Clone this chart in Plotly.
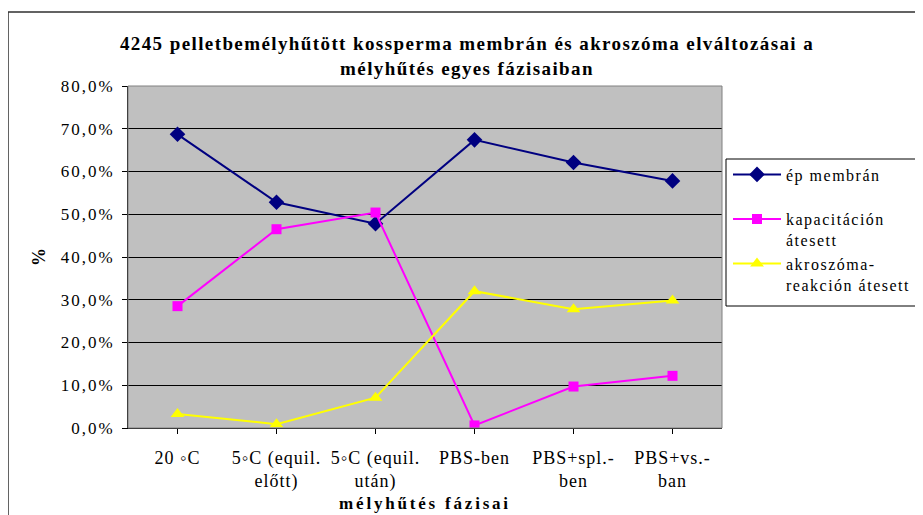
import plotly.graph_objects as go

# ---- data ----
categories = ["20 ◦C", "5◦C (equil.<br>előtt)", "5◦C (equil.<br>után)", "PBS-ben",
              "PBS+spl.-<br>ben", "PBS+vs.-<br>ban"]
ep_membran = [0.687, 0.528, 0.478, 0.674, 0.621, 0.578]
kapacitacion = [0.285, 0.465, 0.504, 0.006, 0.097, 0.122]
akroszoma = [0.033, 0.009, 0.071, 0.320, 0.278, 0.298]
series_names = ["ép membrán", "kapacitáción<br>átesett", "akroszóma-<br>reakción átesett"]
y_tick_values = [0, 0.1, 0.2, 0.3, 0.4, 0.5, 0.6, 0.7, 0.8]
y_tick_labels = ["0,0%", "10,0%", "20,0%", "30,0%", "40,0%", "50,0%", "60,0%", "70,0%", "80,0%"]
title_lines = ["4245 pelletbemélyhűtött kossperma membrán és akroszóma elváltozásai a",
               "mélyhűtés egyes fázisaiban"]
x_title = "mélyhűtés fázisai"
y_title = "%"

FONT = "Liberation Serif, Times New Roman, serif"


def spaced(text, ls):
    return "<br>".join(f'<span style="letter-spacing:{ls}px">{t}</span>' for t in text.split("<br>"))


# page body has an 8px margin: figure coords = reference coords - 8
OFF = 8
W, H = 923 - OFF, 515 - OFF
L, R, T, B = 128 - OFF, 722 - OFF, 86 - OFF, 428 - OFF


def px(x):
    return (x - OFF - L) / (R - L)


def py(y):
    return (B - (y - OFF)) / (B - T)


x_idx = list(range(len(categories)))
LEG_LS = 1.5

fig = go.Figure()
fig.add_trace(go.Scatter(
    x=x_idx, y=ep_membran, name=spaced(series_names[0] + "<br> ", LEG_LS), mode="lines+markers",
    line=dict(color="#000080", width=2),
    marker=dict(symbol="diamond", size=12, color="#000080")))
fig.add_trace(go.Scatter(
    x=x_idx, y=kapacitacion, name=spaced(series_names[1], LEG_LS), mode="lines+markers",
    line=dict(color="#FF00FF", width=2),
    marker=dict(symbol="square", size=10, color="#FF00FF")))
fig.add_trace(go.Scatter(
    x=x_idx, y=akroszoma, name=spaced(series_names[2], LEG_LS), mode="lines+markers",
    line=dict(color="#FFFF00", width=2),
    marker=dict(symbol="triangle-up", size=12, color="#FFFF00")))

shapes = [
    dict(type="rect", xref="paper", yref="paper", x0=px(8), x1=px(935), y0=py(12), y1=py(530),
         line=dict(color="#303030", width=1.5), fillcolor="rgba(0,0,0,0)", layer="below"),
    dict(type="rect", xref="paper", yref="paper", x0=0, x1=1, y0=0, y1=1,
         line=dict(color="#808080", width=1), fillcolor="rgba(0,0,0,0)", layer="above"),
    dict(type="rect", xref="paper", yref="paper", x0=px(726), x1=px(921.5), y0=py(306), y1=py(159),
         line=dict(color="black", width=1), fillcolor="white", layer="above"),
]

fig.update_layout(
    width=W, height=H,
    margin=dict(l=L, r=W - R, t=T, b=H - B, autoexpand=False),
    paper_bgcolor="white", plot_bgcolor="#C0C0C0",
    font=dict(family=FONT, size=18, color="black"),
    title=dict(text="<br>".join(spaced(t, 1.4) for t in title_lines),
               x=(467 - OFF) / W, xanchor="center", xref="container",
               y=1 - (50 - OFF) / H, yanchor="top", yref="container",
               font=dict(family=FONT, size=19, weight="bold", color="black")),
    showlegend=True,
    legend=dict(x=px(728), xanchor="left", y=py(157.5), yanchor="top",
                bgcolor="rgba(0,0,0,0)", borderwidth=0, valign="top",
                font=dict(family=FONT, size=16), tracegroupgap=0, itemwidth=48),
    shapes=shapes,
)

fig.update_xaxes(
    range=[-0.5, len(categories) - 0.5],
    tickmode="array", tickvals=x_idx, ticktext=[spaced(c, 1.0) for c in categories],
    ticks="outside", ticklen=5, tickcolor="black", tickson="boundaries",
    showline=True, linecolor="black", linewidth=1,
    showgrid=False, zeroline=False, ticklabelstandoff=8,
    tickfont=dict(family=FONT, size=18),
    title=dict(text=spaced(x_title, 2.8), font=dict(family=FONT, size=17, weight="bold"), standoff=6),
)
fig.update_yaxes(
    range=[0, 0.8],
    tickmode="array", tickvals=y_tick_values, ticktext=[spaced(t, 2.0) for t in y_tick_labels],
    ticks="outside", ticklen=5, tickcolor="black",
    showline=True, linecolor="black", linewidth=1,
    showgrid=True, gridcolor="black", gridwidth=1, zeroline=False, ticklabelstandoff=4,
    tickfont=dict(family=FONT, size=17),
    title=dict(text=y_title, font=dict(family=FONT, size=18, weight="bold"), standoff=10),
)

fig.write_html("out.html")
